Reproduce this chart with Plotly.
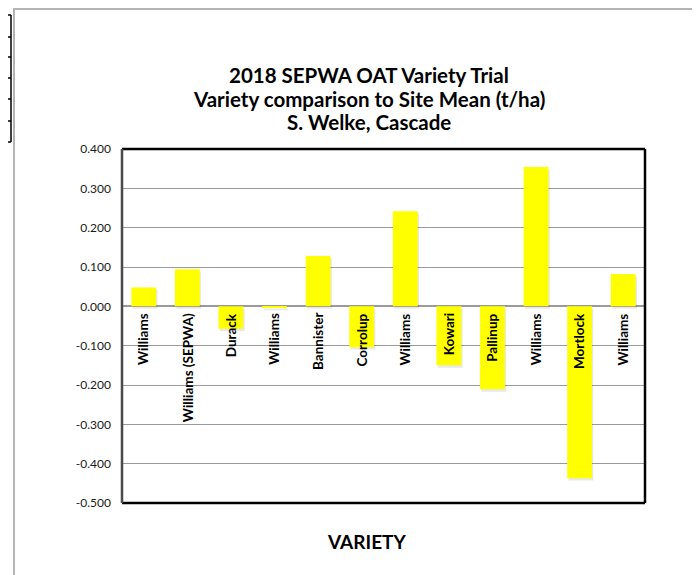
import plotly.graph_objects as go

# ---- data ----
varieties = ["Williams", "Williams (SEPWA)", "Durack", "Williams", "Bannister", "Corrolup",
             "Williams", "Kowari", "Pallinup", "Williams", "Mortlock", "Williams"]
diff_to_mean = [0.048, 0.094, -0.057, -0.004, 0.128, -0.104,
                0.242, -0.150, -0.211, 0.354, -0.437, 0.082]
y_tick_values = [0.4, 0.3, 0.2, 0.1, 0.0, -0.1, -0.2, -0.3, -0.4, -0.5]
y_tick_labels = ["0.400", "0.300", "0.200", "0.100", "0.000", "-0.100", "-0.200",
                 "-0.300", "-0.400", "-0.500"]
title_lines = ["2018 SEPWA OAT Variety Trial",
               "Variety comparison to Site Mean (t/ha)",
               "S. Welke, Cascade"]
x_title = "VARIETY"

# ---- layout geometry (figure pixels; page has an 8px body margin) ----
OFF = 8
W, H = 700 - OFF, 575 - OFF
L, R, T, B = 114, 55, 141, 72
PW, PH = W - L - R, H - T - B


def px(page_x):
    return (page_x - OFF - L) / PW


def py(page_y):
    return (H - B - (page_y - OFF)) / PH


FONT = "Lato, 'Open Sans', sans-serif"
xs = list(range(len(varieties)))
BAR_W = 0.57

fig = go.Figure()
# soft drop shadow under the bars
fig.add_trace(go.Bar(
    x=xs, y=diff_to_mean, base=-0.006,
    marker=dict(color="rgba(0,0,0,0.09)", line=dict(width=0)),
    width=BAR_W, offset=-BAR_W / 2 + 0.03, hoverinfo="skip",
))
fig.add_trace(go.Bar(
    x=xs, y=diff_to_mean,
    marker=dict(color="#FFFF00", line=dict(width=0)),
    width=BAR_W, offset=-BAR_W / 2,
    hoverinfo="y",
))

annotations = []
for i, name in enumerate(varieties):
    annotations.append(dict(
        x=i, y=0, xref="x", yref="y", text=f"<b>{name}</b>",
        textangle=-90, showarrow=False, xanchor="center", yanchor="top",
        yshift=-5, font=dict(family=FONT, size=13.5, color="#000000"),
    ))

for line, yy in zip(title_lines, [75, 99, 122]):
    annotations.append(dict(
        x=px(369), y=py(yy), xref="paper", yref="paper",
        text=f"<b>{line}</b>", showarrow=False, xanchor="center", yanchor="middle",
        font=dict(family=FONT, size=20.5, color="#000000"),
    ))
annotations.append(dict(
    x=px(366), y=py(541), xref="paper", yref="paper",
    text=f"<b>{x_title}</b>", showarrow=False, xanchor="center", yanchor="middle",
    font=dict(family=FONT, size=19, color="#000000"),
))

shapes = []
# outer chart border (grey)
shapes.append(dict(type="path", xref="paper", yref="paper",
                   path=f"M {px(14)},{py(600)} L {px(14)},{py(9)} L {px(720)},{py(9)}",
                   line=dict(color="#B4B4B4", width=2)))
# stray spreadsheet cell borders at far left
shapes.append(dict(type="line", xref="paper", yref="paper",
                   x0=px(11), x1=px(11), y0=py(15), y1=py(142),
                   line=dict(color="#000000", width=1.5)))
for yy in [15, 37, 57, 78, 99, 121, 142]:
    shapes.append(dict(type="line", xref="paper", yref="paper",
                       x0=px(8), x1=px(11), y0=py(yy), y1=py(yy),
                       line=dict(color="#000000", width=1.5)))
# plot frame
shapes.append(dict(type="line", xref="paper", yref="paper", x0=0, x1=1, y0=1, y1=1,
                   line=dict(color="#000000", width=2.5)))
shapes.append(dict(type="line", xref="paper", yref="paper", x0=1, x1=1, y0=0, y1=1,
                   line=dict(color="#000000", width=2.5)))
shapes.append(dict(type="line", xref="paper", yref="paper", x0=0, x1=1, y0=0, y1=0,
                   line=dict(color="#000000", width=2.5)))
shapes.append(dict(type="line", xref="paper", yref="paper", x0=0, x1=0, y0=0, y1=1,
                   line=dict(color="#4A4A4A", width=2.5)))

fig.update_layout(
    width=W, height=H,
    margin=dict(l=L, r=R, t=T, b=B, pad=0),
    paper_bgcolor="#FFFFFF", plot_bgcolor="#FFFFFF",
    showlegend=False,
    barmode="overlay",
    annotations=annotations,
    shapes=shapes,
    xaxis=dict(range=[-0.5, len(varieties) - 0.5], showticklabels=False,
               showgrid=False, zeroline=False, showline=False, ticks="", fixedrange=True),
    yaxis=dict(range=[-0.5, 0.4], tickvals=y_tick_values, ticktext=y_tick_labels,
               showgrid=True, gridcolor="#9A9A9A", gridwidth=1,
               zeroline=True, zerolinecolor="#9A9A9A", zerolinewidth=1.5,
               showline=False, ticks="", ticklabelstandoff=10,
               tickfont=dict(family=FONT, size=12, color="#1A1A1A"), fixedrange=True),
)

fig.write_html("out.html")
